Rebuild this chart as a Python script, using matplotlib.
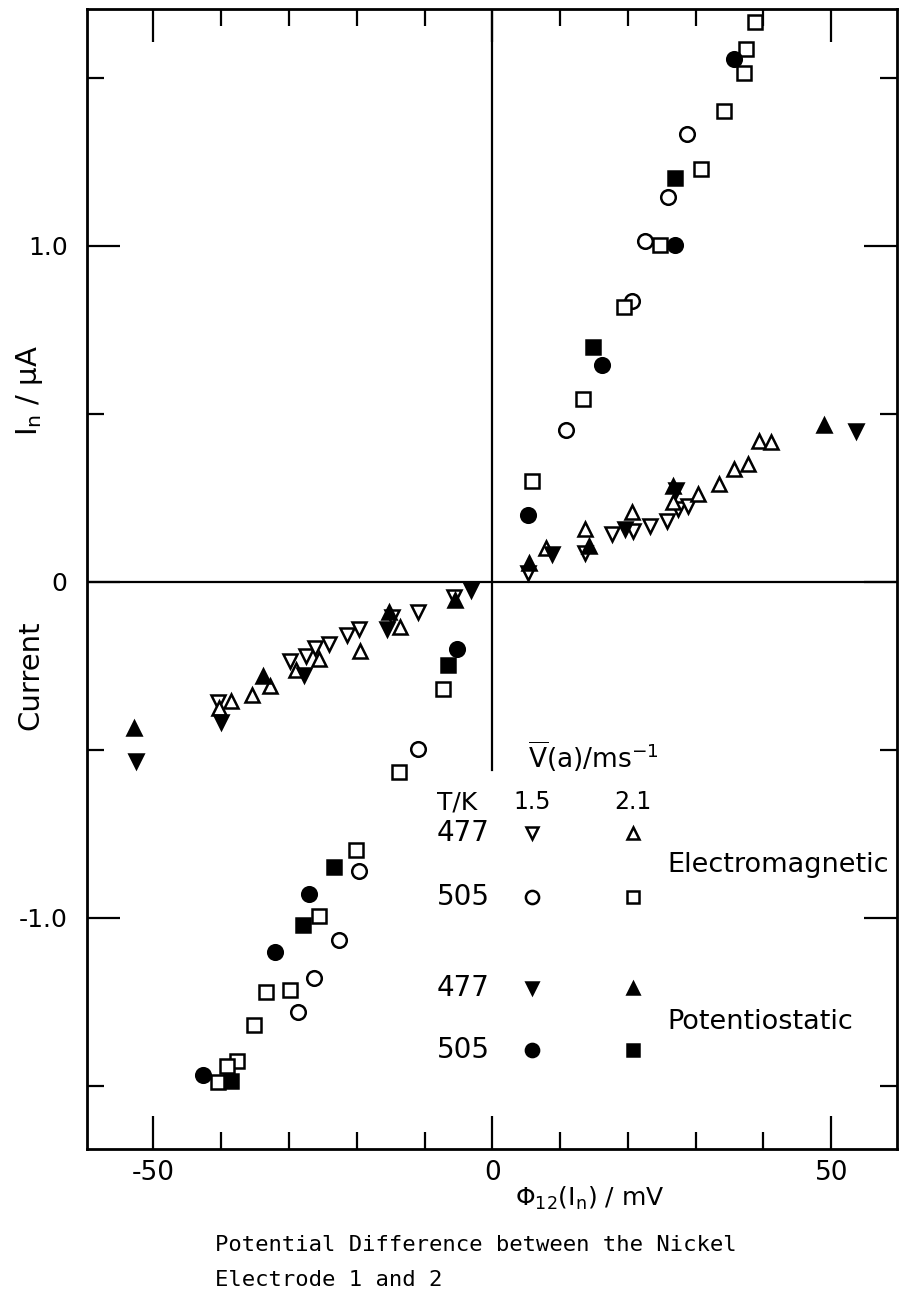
import numpy as np
import matplotlib.pyplot as plt

plt.rcParams['font.family'] = ['DejaVu Sans']
plt.rcParams['mathtext.fontset'] = 'dejavusans'

# potential (mV) and current (uA) for each series
em477_15_x = [5.3, 13.7, 17.6, 20.7, 23.2, 25.7, 27.4, 28.8,
              -40.4, -29.8, -27.5, -26.1, -24.1, -21.4, -19.6, -14.8, -10.9, -5.7]
em477_15_y = [0.028, 0.085, 0.142, 0.153, 0.165, 0.18, 0.216, 0.225,
              -0.358, -0.236, -0.219, -0.198, -0.185, -0.159, -0.139, -0.105, -0.088, -0.046]

em477_21_x = [7.9, 13.7, 20.6, 26.6, 30.3, 33.4, 35.6, 37.7, 39.4, 41.1,
              -40.3, -38.5, -35.4, -32.8, -29.0, -25.6, -19.5, -13.6]
em477_21_y = [0.10, 0.157, 0.207, 0.239, 0.261, 0.29, 0.335, 0.35, 0.42, 0.415,
              -0.375, -0.353, -0.335, -0.31, -0.262, -0.23, -0.205, -0.133]

em505_15_x = [10.8, 20.6, 22.5, 25.9, 28.7, -10.9, -19.6, -22.6, -26.3, -28.7]
em505_15_y = [0.452, 0.835, 1.014, 1.145, 1.332, -0.498, -0.86, -1.067, -1.178, -1.281]

em505_21_x = [5.8, 13.4, 19.4, 24.7, 30.8, 34.2, 37.1, 37.4, 38.7,
              -7.3, -13.8, -20.1, -25.6, -29.9, -33.4, -35.2, -37.7, -39.1, -40.5]
em505_21_y = [0.30, 0.545, 0.818, 1.003, 1.23, 1.40, 1.514, 1.585, 1.665,
              -0.319, -0.566, -0.797, -0.993, -1.215, -1.221, -1.318, -1.426, -1.44, -1.489]

pot477_15_x = [8.8, 19.5, 27.1, 53.6, -52.5, -40.0, -27.8, -15.5, -3.2]
pot477_15_y = [0.082, 0.159, 0.273, 0.449, -0.532, -0.418, -0.276, -0.139, -0.023]

pot477_21_x = [5.4, 14.3, 26.6, 48.9, -52.8, -33.9, -15.3, -5.5]
pot477_21_y = [0.057, 0.108, 0.285, 0.468, -0.435, -0.281, -0.088, -0.055]

pot505_15_x = [5.3, 16.2, 26.9, 35.7, -5.2, -27.1, -32.0, -42.7]
pot505_15_y = [0.199, 0.645, 1.003, 1.555, -0.2, -0.93, -1.10, -1.466]

pot505_21_x = [14.8, 27.0, -6.5, -23.4, -27.9, -38.6]
pot505_21_y = [0.698, 1.202, -0.247, -0.849, -1.022, -1.486]

# series styles: (x, y, marker, filled)
series = [
    (em477_15_x, em477_15_y, 'v', False),
    (em477_21_x, em477_21_y, '^', False),
    (em505_15_x, em505_15_y, 'o', False),
    (em505_21_x, em505_21_y, 's', False),
    (pot477_15_x, pot477_15_y, 'v', True),
    (pot477_21_x, pot477_21_y, '^', True),
    (pot505_15_x, pot505_15_y, 'o', True),
    (pot505_21_x, pot505_21_y, 's', True),
]

fig = plt.figure(figsize=(9, 13), dpi=100)
ax = fig.add_axes([87 / 900, 1 - 1149 / 1300, 810 / 900, 1140 / 1300])
ax.set_xlim(-59.8, 59.7)
ax.set_ylim(-1.6875, 1.705)

def marker_kw(marker, filled):
    size = {'v': 10, '^': 10, 'o': 10.5, 's': 9.5}[marker]
    return dict(marker=marker, markersize=size, linestyle='None',
                markeredgecolor='black', markeredgewidth=1.8,
                markerfacecolor='black' if filled else 'white')

for x, y, m, filled in series:
    ax.plot(x, y, zorder=3, **marker_kw(m, filled))

# axis cross lines
ax.axhline(0, color='black', lw=1.6, zorder=2)
ylo, yhi = ax.get_ylim()
ax.axvline(0, ymin=(-0.56 - ylo) / (yhi - ylo), ymax=1, color='black', lw=1.6, zorder=2)

# frame and ticks
for s in ax.spines.values():
    s.set_linewidth(2.0)
ax.set_xticks([-50, 0, 50])
ax.set_xticks([-40, -30, -20, -10, 10, 20, 30, 40], minor=True)
ax.set_xticklabels(['-50', '0', '50'])
ax.set_yticks([-1.0, 0, 1.0])
ax.set_yticks([-1.5, -0.5, 0.5, 1.5], minor=True)
ax.set_yticklabels(['-1.0', '0', '1.0'])
ax.tick_params(which='both', direction='in', top=True, right=True, color='black')
ax.tick_params(which='major', length=24, width=1.6)
ax.tick_params(which='minor', length=12.5, width=1.6)
ax.tick_params(axis='x', which='major', labelsize=19, pad=8)
ax.tick_params(axis='y', which='major', labelsize=18, pad=14)

# axis titles
fig.text(0.033, 0.700, r'I$_\mathrm{n}$ / μA', rotation=90, fontsize=21, ha='center', va='center')
fig.text(0.034, 0.481, 'Current', rotation=90, fontsize=21, ha='center', va='center')
fig.text(0.655, 0.0785, r'Φ$_\mathrm{12}$(I$_\mathrm{n}$) / mV', fontsize=18, ha='center', va='center')
fig.text(0.239, 0.042, 'Potential Difference between the Nickel', fontsize=16,
         family='DejaVu Sans Mono', ha='left', va='center')
fig.text(0.239, 0.0155, 'Electrode 1 and 2', fontsize=16,
         family='DejaVu Sans Mono', ha='left', va='center')

# legend table
tr = ax.transAxes
col_num, col_a, col_b, col_txt = 0.432, 0.549, 0.674, 0.716
ax.text(0.545, 0.344, r'$\overline{\mathrm{V}}\mathrm{(a)/ms}^{-1}$', transform=tr,
        fontsize=19, ha='left', va='center')
ax.text(col_num, 0.304, 'T/K', transform=tr, fontsize=18, ha='left', va='center')
ax.text(col_a, 0.304, '1.5', transform=tr, fontsize=17, ha='center', va='center')
ax.text(col_b, 0.304, '2.1', transform=tr, fontsize=17, ha='center', va='center')

rows = [
    ('477', 0.2772, 'v', '^', False),
    ('505', 0.2211, 'o', 's', False),
    ('477', 0.1412, 'v', '^', True),
    ('505', 0.0868, 'o', 's', True),
]
for label, ry, ma, mb, filled in rows:
    ax.text(col_num, ry, label, transform=tr, fontsize=20, ha='left', va='center')
    kw_a = marker_kw(ma, filled)
    kw_b = marker_kw(mb, filled)
    kw_a['markersize'] -= 1.0
    kw_b['markersize'] -= 1.0
    ax.plot([col_a], [ry], transform=tr, clip_on=False, **kw_a)
    ax.plot([col_b], [ry], transform=tr, clip_on=False, **kw_b)

ax.text(col_txt, 0.2491, 'Electromagnetic', transform=tr, fontsize=19.5, ha='left', va='center')
ax.text(col_txt, 0.1114, 'Potentiostatic', transform=tr, fontsize=19.5, ha='left', va='center')

fig.savefig('out.png', dpi=100)
